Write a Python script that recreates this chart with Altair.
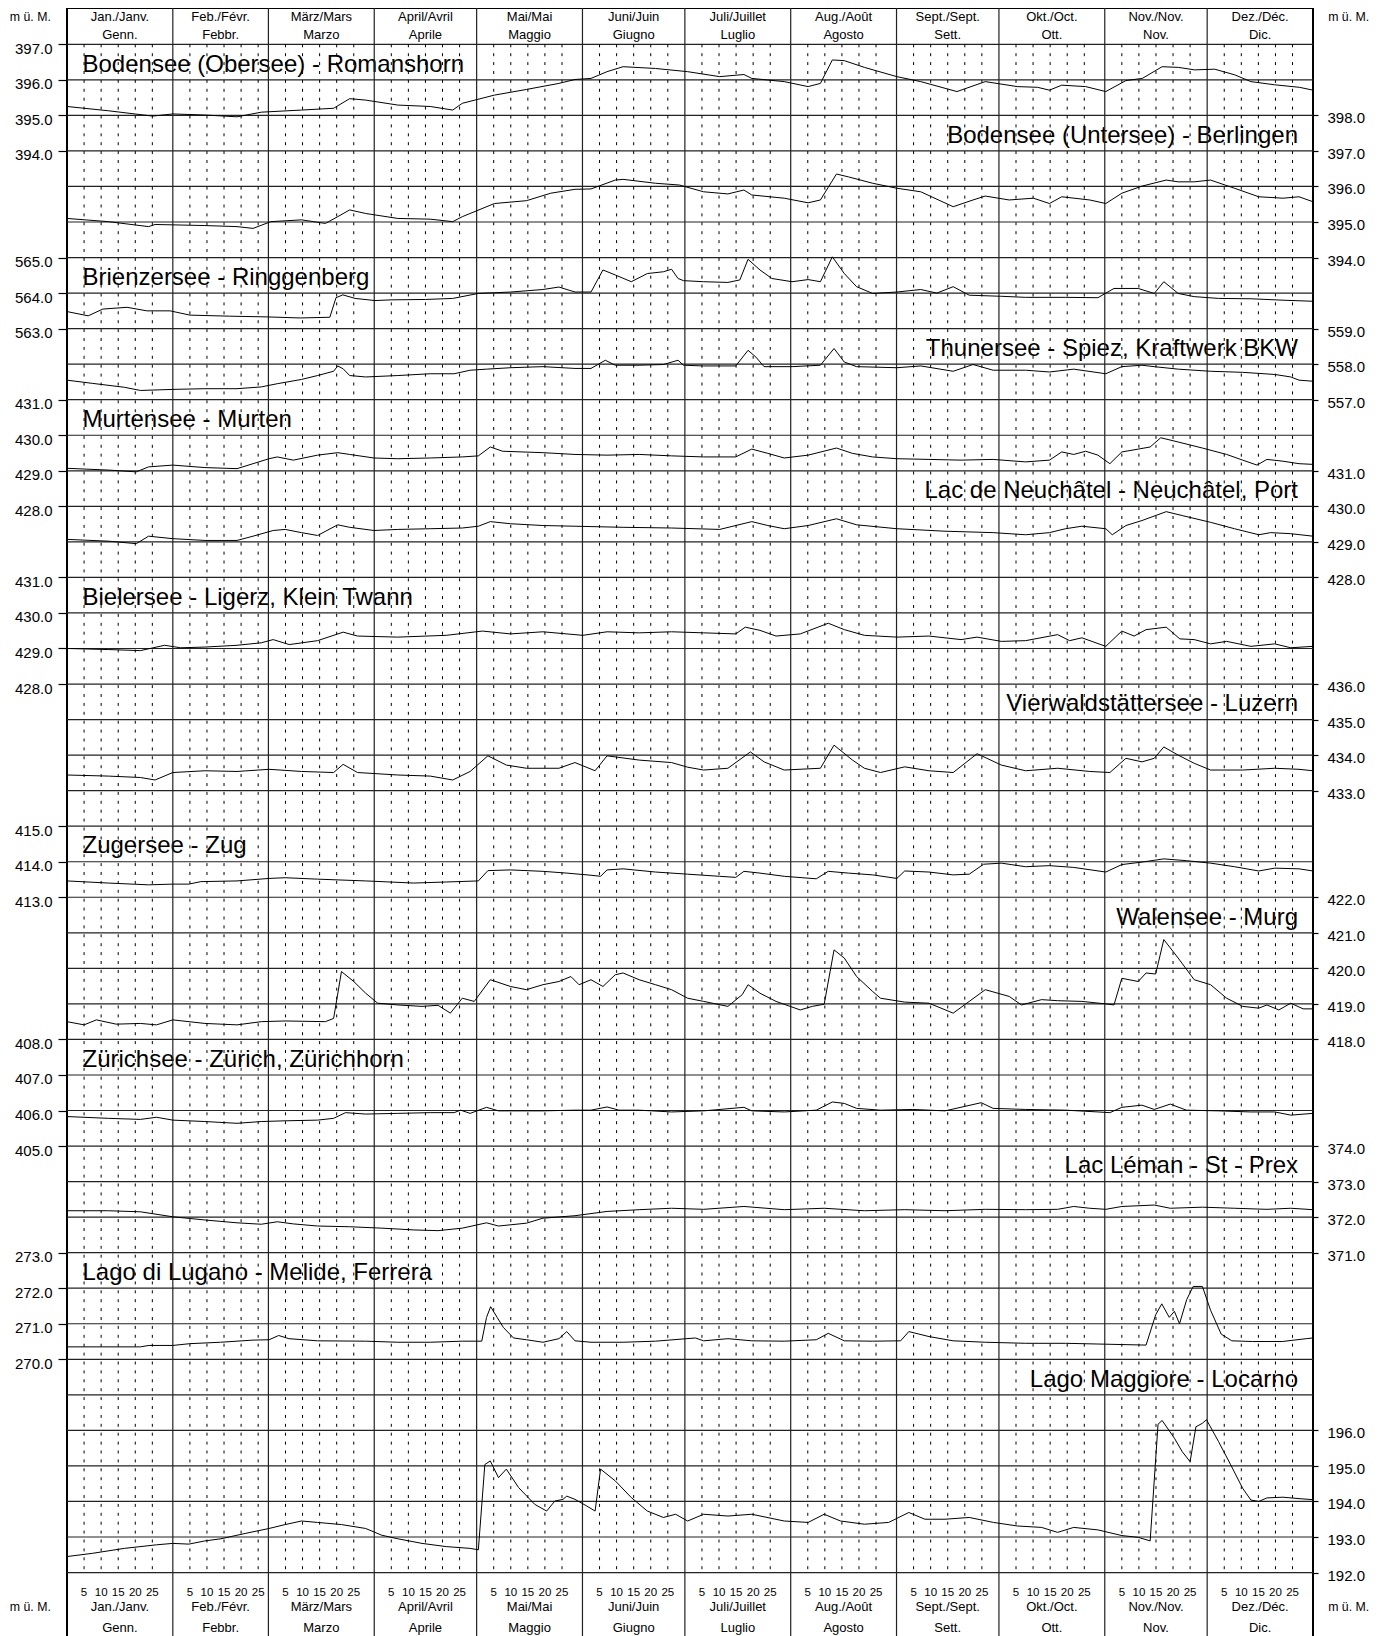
import altair as alt
import pandas as pd

# ---------------- calendar / header text ----------------
MONTH_DAYS = [31, 28, 31, 30, 31, 30, 31, 31, 30, 31, 30, 31]
MONTH_LINE1 = ["Jan./Janv.", "Feb./Févr.", "März/Mars", "April/Avril", "Mai/Mai", "Juni/Juin",
               "Juli/Juillet", "Aug./Août", "Sept./Sept.", "Okt./Oct.", "Nov./Nov.", "Dez./Déc."]
MONTH_LINE2 = ["Genn.", "Febbr.", "Marzo", "Aprile", "Maggio", "Giugno",
               "Luglio", "Agosto", "Sett.", "Ott.", "Nov.", "Dic."]
DAY_TICKS = [5, 10, 15, 20, 25]
UNIT = "m ü. M."

# ---------------- lakes ----------------
LAKES = ["Bodensee (Obersee) - Romanshorn", "Bodensee (Untersee) - Berlingen",
         "Brienzersee - Ringgenberg", "Thunersee - Spiez, Kraftwerk BKW",
         "Murtensee - Murten", "Lac de Neuchâtel - Neuchâtel, Port",
         "Bielersee - Ligerz, Klein Twann", "Vierwaldstättersee - Luzern",
         "Zugersee - Zug", "Walensee - Murg", "Zürichsee - Zürich, Zürichhorn",
         "Lac Léman - St - Prex", "Lago di Lugano - Melide, Ferrera", "Lago Maggiore - Locarno"]
SIDES = ["left", "right", "left", "right", "left", "right", "left",
         "right", "left", "right", "left", "right", "left", "right"]
AXIS_TOP = [397, 398, 565, 559, 431, 431, 431, 436, 415, 422, 408, 374, 273, 196]
AXIS_BOTTOM = [394, 394, 563, 557, 428, 428, 428, 433, 413, 418, 405, 371, 270, 192]
TOP_ROW = [0, 2, 6, 8, 10, 12, 15, 18, 22, 24, 28, 31, 34, 39]
TITLE_ROW = [0.5, 2.5, 6.5, 8.5, 10.5, 12.5, 15.5, 18.5, 22.5, 24.5, 28.5, 31.5, 34.5, 37.5]

# ---------------- series (day of year, water level m ü. M.) ----------------
OBERSEE_DAY = [0, 12.1, 25.1, 31, 40.4, 49.8, 56.9, 68.7, 78.1, 82.8, 87.5, 96.9, 106.4, 113, 115.8,
               125.2, 134.6, 144.1, 148.8, 153.5, 158.2, 162.9, 172.4, 181.8, 191.2, 198.3, 200.6,
               210.1, 217.1, 220.7, 224.2, 227.7, 233.6, 243.1, 250.1, 260.7, 269, 278.4, 284.3,
               287.8, 291.4, 298.4, 304.3, 310.2, 315, 320.8, 325.6, 330.3, 336.2, 342.1, 346.8,
               353.8, 361, 365]
OBERSEE_LEVEL = [395.25, 395.13, 394.98, 395.04, 395.01, 394.96, 395.09, 395.15, 395.20, 395.47,
                 395.43, 395.29, 395.25, 395.15, 395.34, 395.57, 395.73, 395.90, 396.01, 396.04,
                 396.23, 396.37, 396.32, 396.23, 396.09, 396.15, 396.04, 395.95, 395.81, 395.90,
                 396.56, 396.54, 396.35, 396.09, 395.95, 395.67, 395.95, 395.81, 395.79, 395.71,
                 395.85, 395.81, 395.67, 395.98, 396.04, 396.37, 396.35, 396.28, 396.30, 396.14,
                 395.95, 395.86, 395.79, 395.71]

UNTERSEE_DAY = [0, 12.1, 23.9, 25.8, 31, 40.4, 49.8, 54.5, 59.7, 68.7, 75.7, 79.3, 82.8, 87.5, 96.9,
                106.4, 113, 115.8, 125.2, 134.6, 141.7, 148.8, 153.5, 160.6, 162.9, 172.4, 179.4,
                186.5, 193.6, 198.3, 200.6, 210.1, 217.1, 220.7, 225.4, 228.9, 236, 243.1, 250.1,
                259.6, 265.4, 269, 276, 283.1, 287.8, 291.4, 299.6, 304.3, 309, 314.9, 322, 325.5,
                330.2, 335, 342, 349.1, 356.2, 360.9, 365]
UNTERSEE_LEVEL = [395.10, 395.01, 394.87, 394.93, 394.92, 394.90, 394.87, 394.82, 395.01, 395.06,
                  394.96, 395.15, 395.34, 395.24, 395.10, 395.08, 395.01, 395.15, 395.52, 395.60,
                  395.81, 395.92, 395.93, 396.18, 396.20, 396.09, 396.04, 395.85, 395.79, 395.90,
                  395.76, 395.67, 395.54, 395.62, 396.35, 396.27, 396.09, 395.95, 395.85, 395.43,
                  395.62, 395.73, 395.62, 395.67, 395.52, 395.71, 395.62, 395.52, 395.81, 396.01,
                  396.18, 396.13, 396.13, 396.18, 395.95, 395.71, 395.67, 395.71, 395.57]

BRIENZ_DAY = [0, 6.2, 10.5, 17.6, 23.4, 30.2, 36, 47.7, 58.6, 68.3, 77, 78.8, 80.8, 84.4, 90.2, 95.2,
              105, 113, 120.5, 130, 139.4, 144.1, 148.8, 153.5, 157, 160.6, 165.3, 170, 174.7, 177.1,
              179, 180.6, 186.5, 193.6, 197.1, 199.5, 203, 206.5, 212.4, 217.1, 220.7, 224.2, 227.7,
              231.3, 236, 243.1, 250.1, 254.8, 259.6, 264.3, 273.7, 280.8, 292.5, 302, 306.7, 313.8,
              318.5, 321.3, 325.5, 330.2, 337.3, 346.8, 356.2, 365]
BRIENZ_LEVEL = [563.48, 563.36, 563.55, 563.60, 563.50, 563.50, 563.38, 563.35, 563.33, 563.30,
                563.32, 563.87, 563.95, 563.85, 563.79, 563.81, 563.82, 563.85, 563.99, 564.03,
                564.10, 564.17, 564.03, 564.03, 564.65, 564.51, 564.32, 564.55, 564.60, 564.67,
                564.41, 564.35, 564.32, 564.30, 564.37, 564.95, 564.65, 564.41, 564.32, 564.38,
                564.32, 565.02, 564.55, 564.18, 563.99, 564.03, 564.10, 564.00, 564.18, 563.94,
                563.91, 563.88, 563.88, 563.87, 564.13, 564.13, 563.99, 564.32, 563.99, 563.90,
                563.85, 563.84, 563.80, 563.77]

THUN_DAY = [0, 7.4, 16.8, 21.5, 31, 40.4, 49.8, 56.9, 61.6, 68.7, 73.4, 78.1, 79.3, 80.9, 82.8, 87.5,
            96.9, 106.4, 113.4, 118.1, 122.9, 129.9, 139.4, 148.8, 153.5, 157.7, 160.6, 167.6, 174.7,
            179, 180.6, 186.5, 195.9, 199.5, 201.8, 204.2, 212.4, 220.7, 224.7, 227.7, 231.3, 243.1,
            250.1, 259.6, 265.4, 271.3, 280.8, 287.8, 294.9, 304.3, 309, 314.9, 318.5, 325.5, 335,
            344.4, 353.8, 358.5, 360.9, 365]
THUN_LEVEL = [557.55, 557.46, 557.35, 557.26, 557.29, 557.31, 557.31, 557.36, 557.45, 557.57,
              557.68, 557.80, 557.95, 557.87, 557.68, 557.64, 557.68, 557.73, 557.73, 557.83,
              557.86, 557.90, 557.93, 557.88, 557.88, 558.11, 557.97, 557.97, 557.99, 558.11,
              557.97, 557.95, 557.95, 558.39, 558.20, 557.93, 557.93, 557.97, 558.44, 558.06,
              557.93, 557.90, 557.95, 557.80, 557.99, 557.83, 557.83, 557.78, 557.86, 557.73,
              557.93, 557.97, 557.93, 557.86, 557.80, 557.77, 557.71, 557.64, 557.55, 557.52]

MURTEN_DAY = [0, 12.1, 20.3, 23.9, 31, 40.4, 49.8, 54.5, 59.2, 61.6, 66.3, 73.4, 79.3, 82.8, 89.9,
              96.9, 106.4, 115.8, 120.5, 124, 127.6, 139.4, 148.8, 158.2, 167.6, 177.1, 186.5, 195.9,
              200.6, 205.3, 210.1, 217.1, 225.4, 230.1, 236, 243.1, 252.5, 261.9, 271.3, 280.8, 287.8,
              291.4, 294.9, 298.4, 302, 305.5, 309, 313.8, 317.3, 320.4, 325.5, 332.6, 339.7, 344.4,
              348.6, 351.5, 356.2, 360.9, 365]
MURTEN_LEVEL = [429.07, 429.02, 428.97, 429.11, 429.16, 429.09, 429.06, 429.20, 429.34, 429.39,
                429.30, 429.44, 429.51, 429.46, 429.36, 429.34, 429.36, 429.39, 429.42, 429.67,
                429.55, 429.51, 429.46, 429.44, 429.46, 429.42, 429.39, 429.39, 429.61, 429.49,
                429.36, 429.44, 429.64, 429.49, 429.39, 429.34, 429.32, 429.30, 429.32, 429.25,
                429.30, 429.53, 429.46, 429.55, 429.44, 429.20, 429.53, 429.61, 429.67, 429.93,
                429.81, 429.64, 429.46, 429.30, 429.16, 429.32, 429.27, 429.20, 429.18]

NEUCHATEL_DAY = [0, 12.1, 20.3, 23.9, 31, 40.4, 49.8, 54.5, 60.4, 63.9, 68.7, 73.4, 79.3, 82.8, 89.9,
                 96.9, 106.4, 115.8, 120.5, 124, 129.9, 139.4, 148.8, 162.9, 177.1, 191.2, 200.6,
                 205.3, 210.1, 217.1, 225.4, 231.3, 243.1, 257.2, 271.3, 280.8, 287.8, 292.5, 297.3,
                 304.3, 306.2, 310.2, 314.9, 322, 326.7, 335, 342, 349.1, 352.6, 358.5, 365]
NEUCHATEL_LEVEL = [429.07, 429.02, 428.95, 429.16, 429.09, 429.04, 429.04, 429.16, 429.32, 429.35,
                   429.26, 429.18, 429.48, 429.41, 429.32, 429.35, 429.37, 429.39, 429.44, 429.57,
                   429.51, 429.46, 429.44, 429.41, 429.39, 429.35, 429.57, 429.46, 429.37, 429.46,
                   429.65, 429.48, 429.37, 429.30, 429.26, 429.20, 429.26, 429.37, 429.44, 429.37,
                   429.20, 429.46, 429.60, 429.85, 429.74, 429.55, 429.37, 429.20, 429.26, 429.23,
                   429.16]

BIEL_DAY = [0, 12.1, 21.5, 28.6, 33.3, 40.4, 49.8, 56.9, 60.4, 65.1, 73.4, 80.9, 85.1, 96.9, 111.1,
            121.7, 129.9, 139.4, 151.1, 158.2, 167.6, 177.1, 186.5, 195.9, 198.7, 203, 207.7, 214.8,
            223, 227.7, 233.6, 243.1, 252.5, 261.9, 266.6, 273.7, 280.8, 290.2, 293.7, 297.3, 304.3,
            309, 312.6, 316.1, 322, 326, 330.2, 335, 339.7, 346.8, 353.8, 358.5, 365]
BIEL_LEVEL = [429.00, 428.97, 428.94, 429.09, 429.02, 429.04, 429.09, 429.16, 429.25, 429.11,
              429.22, 429.46, 429.35, 429.32, 429.37, 429.49, 429.41, 429.47, 429.37, 429.47,
              429.44, 429.47, 429.44, 429.41, 429.60, 429.51, 429.35, 429.41, 429.71, 429.53,
              429.37, 429.32, 429.35, 429.25, 429.32, 429.20, 429.22, 429.39, 429.22, 429.30,
              429.06, 429.49, 429.35, 429.53, 429.60, 429.27, 429.25, 429.13, 429.20, 429.06,
              429.13, 429.02, 429.06]

VIERWALD_DAY = [0, 12.1, 21.5, 25.8, 31, 40.4, 49.8, 59.2, 68.7, 78.1, 80.9, 85.1, 96.9, 106.4, 113,
                118.1, 123.3, 128.7, 134.6, 144.1, 148.8, 154.7, 158.2, 167.6, 177.1, 181.8, 186.5,
                193.6, 200.2, 204.2, 210.1, 220.7, 224.7, 230.1, 233.6, 238.3, 245.4, 252.5, 259.6,
                266.6, 273.7, 280.8, 290.2, 299.6, 305.5, 310.2, 314.9, 318.5, 321.3, 325.5, 330.2,
                335, 344.4, 353.8, 360.9, 365]
VIERWALD_LEVEL = [433.44, 433.41, 433.37, 433.30, 433.51, 433.56, 433.54, 433.60, 433.54, 433.51,
                  433.74, 433.51, 433.44, 433.41, 433.30, 433.54, 433.98, 433.72, 433.63, 433.63,
                  433.79, 433.56, 433.98, 433.86, 433.79, 433.66, 433.58, 433.63, 434.09, 433.81,
                  433.58, 433.63, 434.28, 433.86, 433.63, 433.51, 433.67, 433.56, 433.51, 434.04,
                  433.72, 433.56, 433.63, 433.54, 433.51, 433.91, 433.81, 433.91, 434.23, 434.00,
                  433.77, 433.58, 433.58, 433.63, 433.60, 433.56]

ZUG_DAY = [0, 12.1, 23.9, 31, 35.7, 39.2, 49.8, 59.2, 63.9, 73.4, 87.5, 101.6, 111.1, 120.5, 123.3,
           129.9, 139.4, 146.4, 153.5, 156.3, 158.2, 162.9, 172.4, 181.8, 191.2, 195.9, 198.3, 203,
           210.1, 219.5, 223, 228.9, 236, 243.1, 245.4, 252.5, 259.6, 264.3, 268.5, 273.7, 280.8,
           287.8, 294.9, 304.3, 309, 314.9, 321.3, 327.9, 335, 342, 349.1, 353.8, 360.9, 365]
ZUG_LEVEL = [413.46, 413.40, 413.35, 413.37, 413.37, 413.44, 413.46, 413.53, 413.55, 413.51,
             413.46, 413.40, 413.43, 413.46, 413.75, 413.77, 413.73, 413.68, 413.62, 413.59,
             413.77, 413.80, 413.71, 413.65, 413.59, 413.56, 413.73, 413.68, 413.59, 413.52,
             413.73, 413.68, 413.63, 413.53, 413.74, 413.71, 413.63, 413.65, 413.93, 413.96,
             413.86, 413.89, 413.84, 413.71, 413.92, 413.99, 414.08, 414.03, 413.96, 413.86,
             413.74, 413.82, 413.80, 413.74]

WALEN_DAY = [0, 5, 8.6, 14.4, 21.5, 26.2, 31, 40.4, 49.8, 56.9, 63.9, 75.7, 78.1, 80.4, 84, 87.5, 91,
             96.9, 104, 108.7, 112.3, 115.8, 119.3, 124, 129.9, 134.6, 139.4, 144.1, 147.6, 150,
             153.5, 157, 160.6, 162.9, 167.6, 172.4, 177.1, 181.8, 186.5, 193.6, 197.8, 199.5, 203,
             207.7, 214.8, 218.3, 221.8, 224.7, 227.7, 231.3, 236, 238.3, 245.4, 252.5, 259.6, 264.3,
             269, 276, 279.6, 285.5, 290.2, 297.3, 304.3, 306.7, 309, 313.8, 316.1, 318.9, 321.3,
             325.5, 330.2, 335, 339.7, 344.4, 349.1, 351.5, 355, 358.5, 362.1, 365]
WALEN_LEVEL = [418.50, 418.41, 418.55, 418.43, 418.45, 418.41, 418.55, 418.45, 418.41, 418.50,
               418.52, 418.50, 418.59, 419.91, 419.63, 419.30, 419.02, 418.97, 418.93, 418.96,
               418.74, 419.16, 419.07, 419.68, 419.49, 419.40, 419.54, 419.63, 419.77, 419.54,
               419.68, 419.49, 419.82, 419.87, 419.68, 419.54, 419.40, 419.16, 419.07, 418.93,
               419.26, 419.54, 419.30, 419.07, 418.83, 418.93, 418.99, 420.52, 420.29, 419.77,
               419.35, 419.16, 419.05, 419.02, 418.74, 419.07, 419.40, 419.21, 418.97, 419.12,
               419.09, 419.07, 419.00, 418.97, 419.72, 419.63, 419.87, 419.84, 420.81, 420.29,
               419.68, 419.54, 419.16, 418.93, 418.88, 418.97, 418.83, 419.02, 418.86, 418.86]

ZURICH_DAY = [0, 12.1, 21.5, 26.2, 31, 40.4, 49.8, 56.9, 63.9, 73.4, 78.1, 81.6, 87.5, 96.9, 106.4,
              113.4, 115.3, 118.1, 122.9, 126.4, 139.4, 148.8, 153.5, 158.2, 161.7, 167.6, 177.1,
              186.5, 198.3, 200.6, 210.1, 219.5, 224.2, 227.7, 231.3, 238.3, 247.8, 257.2, 267.8,
              271.3, 280.8, 292.5, 302, 305.5, 309, 314.9, 318.5, 323.2, 327.9, 337.3, 346.8, 353.8,
              358.5, 365]
ZURICH_LEVEL = [405.83, 405.78, 405.75, 405.81, 405.73, 405.69, 405.64, 405.69, 405.71, 405.73,
                405.78, 405.94, 405.90, 405.92, 405.94, 405.94, 406.01, 405.92, 406.09, 405.99,
                405.99, 406.01, 406.01, 406.10, 406.01, 406.01, 405.96, 405.99, 406.09, 405.99,
                405.96, 406.01, 406.24, 406.20, 406.06, 406.01, 406.03, 405.99, 406.22, 406.06,
                406.03, 406.01, 405.96, 405.94, 406.09, 406.15, 406.03, 406.18, 406.01, 405.99,
                405.96, 405.96, 405.87, 405.92]

LEMAN_DAY = [0, 12.1, 21.5, 31, 40.4, 49.8, 56.9, 61.6, 66.3, 73.4, 82.8, 92.2, 101.6, 108.7, 115.8,
             122.9, 126.4, 134.6, 139.4, 148.8, 158.2, 167.6, 177.1, 186.5, 198.3, 210.1, 221.8,
             233.6, 245.4, 257.2, 269, 280.8, 290.2, 294.9, 299.6, 304.3, 309, 318.5, 323.2, 332.6,
             342, 351.5, 358.5, 365]
LEMAN_LEVEL = [372.18, 372.18, 372.15, 372.01, 371.92, 371.84, 371.80, 371.87, 371.81, 371.75,
               371.73, 371.69, 371.64, 371.62, 371.69, 371.84, 371.75, 371.83, 371.97, 372.04,
               372.16, 372.21, 372.25, 372.22, 372.30, 372.21, 372.25, 372.18, 372.21, 372.18,
               372.22, 372.21, 372.22, 372.30, 372.25, 372.22, 372.30, 372.34, 372.25, 372.28,
               372.25, 372.22, 372.25, 372.21]

LUGANO_DAY = [0, 21.5, 24, 31, 36, 45, 54.5, 59.2, 62, 65, 73.4, 87.5, 96.9, 106.4, 115.8, 121.5,
              122.9, 124.1, 126, 127.8, 130.8, 134.6, 139.4, 144.1, 146.4, 148.8, 153.5, 162.9,
              172.4, 184.1, 186.5, 193.6, 200.6, 210.1, 219.5, 223, 227.7, 236, 244.2, 246.6, 252.5,
              259.6, 269, 280.8, 292.5, 302, 316.1, 318.9, 320.7, 322.9, 324.4, 325.9, 328, 329.9,
              332.6, 335, 338.1, 341.2, 347.3, 356, 363, 365]
LUGANO_LEVEL = [270.35, 270.35, 270.39, 270.39, 270.44, 270.48, 270.54, 270.55, 270.67, 270.58,
                270.52, 270.51, 270.48, 270.48, 270.51, 270.51, 271.18, 271.48, 271.18, 270.90,
                270.60, 270.55, 270.48, 270.58, 270.78, 270.52, 270.48, 270.48, 270.51, 270.60,
                270.52, 270.58, 270.52, 270.51, 270.55, 270.73, 270.52, 270.51, 270.52, 270.78,
                270.64, 270.52, 270.48, 270.45, 270.45, 270.43, 270.40, 271.25, 271.56, 271.18,
                271.35, 271.00, 271.68, 272.05, 272.05, 271.38, 270.71, 270.52, 270.50, 270.50,
                270.58, 270.60]

MAGGIORE_DAY = [0, 7.4, 16.8, 26.2, 31, 35.7, 40.4, 45.1, 52.2, 59.2, 63.9, 68.7, 73.4, 80.4, 87.5,
                92.2, 96.9, 104, 111.1, 118.1, 120.5, 122.4, 124, 126.4, 128.7, 132.3, 137, 140.5,
                142.9, 145.3, 146.4, 148.8, 152.3, 154.7, 156.3, 160.6, 165.3, 170, 174.7, 178.3,
                181.8, 186.5, 193.6, 200.6, 210.1, 217.1, 221.8, 226.6, 233.6, 240.7, 246.6, 251.3,
                257.2, 264.3, 271.4, 278.4, 285.5, 290.2, 294.9, 302, 309, 313.8, 317.3, 319.6, 320.8,
                324.4, 326.7, 329, 330.7, 332.6, 333.8, 337.3, 340.9, 344.4, 346.8, 349.1, 351.5,
                356.2, 360.9, 365]
MAGGIORE_LEVEL = [192.45, 192.54, 192.68, 192.78, 192.82, 192.80, 192.89, 192.95, 193.10, 193.24,
                  193.35, 193.45, 193.41, 193.35, 193.24, 193.05, 192.95, 192.82, 192.73, 192.68,
                  192.64, 195.04, 195.14, 194.67, 194.91, 194.39, 193.92, 193.73, 194.01, 194.06,
                  194.15, 194.06, 193.87, 193.73, 194.91, 194.58, 194.11, 193.73, 193.55, 193.64,
                  193.45, 193.64, 193.59, 193.64, 193.45, 193.41, 193.64, 193.45, 193.36, 193.41,
                  193.69, 193.50, 193.50, 193.55, 193.41, 193.31, 193.27, 193.13, 193.27, 193.20,
                  193.04, 192.99, 192.89, 196.17, 196.28, 195.78, 195.40, 195.12, 196.10, 196.20,
                  196.30, 195.69, 195.03, 194.37, 194.04, 194.00, 194.10, 194.12, 194.08, 194.05]

SERIES_DAYS = [OBERSEE_DAY, UNTERSEE_DAY, BRIENZ_DAY, THUN_DAY, MURTEN_DAY, NEUCHATEL_DAY, BIEL_DAY,
               VIERWALD_DAY, ZUG_DAY, WALEN_DAY, ZURICH_DAY, LEMAN_DAY, LUGANO_DAY, MAGGIORE_DAY]
SERIES_LEVELS = [OBERSEE_LEVEL, UNTERSEE_LEVEL, BRIENZ_LEVEL, THUN_LEVEL, MURTEN_LEVEL,
                 NEUCHATEL_LEVEL, BIEL_LEVEL, VIERWALD_LEVEL, ZUG_LEVEL, WALEN_LEVEL, ZURICH_LEVEL,
                 LEMAN_LEVEL, LUGANO_LEVEL, MAGGIORE_LEVEL]

# ---------------- layout ----------------
W = 1246
H = 1632
N_ROWS = 43
FONT = "Liberation Sans"
xscale = alt.Scale(domain=[0, 365], nice=False, zero=False)
yscale = alt.Scale(domain=[-1.0214, 44.898], reverse=True, nice=False, zero=False)

# ---------------- tables ----------------
line_rows = []
for i, name in enumerate(LAKES):
    for d, v in zip(SERIES_DAYS[i], SERIES_LEVELS[i]):
        line_rows.append({"lake": name, "day": d, "level": v,
                          "top": AXIS_TOP[i], "toprow": TOP_ROW[i]})
lines_df = pd.DataFrame(line_rows)

left_labels = [""] * (N_ROWS + 1)
right_labels = [""] * (N_ROWS + 1)
for i in range(len(LAKES)):
    for v in range(AXIS_BOTTOM[i], AXIS_TOP[i] + 1):
        r = TOP_ROW[i] + AXIS_TOP[i] - v
        if SIDES[i] == "left":
            left_labels[r] = f"{v:.1f}"
        else:
            right_labels[r] = f"{v:.1f}"
left_vals = [r for r, s in enumerate(left_labels) if s]
right_vals = [r for r, s in enumerate(right_labels) if s]


def label_expr(labels):
    return "[" + ",".join("'" + s + "'" for s in labels) + "][datum.value]"


starts = [sum(MONTH_DAYS[:m]) for m in range(12)]
grid_df = pd.DataFrame({"row": list(range(N_ROWS + 1))})
month_df = pd.DataFrame({"day": starts[1:]})
dot_df = pd.DataFrame({"day": [s + d for s in starts for d in DAY_TICKS],
                       "r0": 0, "r1": N_ROWS})
mid_df = pd.DataFrame({"mid": [s + n / 2 for s, n in zip(starts, MONTH_DAYS)],
                       "l1": MONTH_LINE1, "l2": MONTH_LINE2})
daylab_df = pd.DataFrame({"day": [s + d for s in starts for d in DAY_TICKS],
                          "lab": [str(d) for s in starts for d in DAY_TICKS]})
title_df = pd.DataFrame({"title": LAKES, "side": SIDES, "trow": TITLE_ROW})

# ---------------- layers ----------------
left_axis = alt.Axis(orient="left", values=left_vals, labelExpr=label_expr(left_labels),
                     tickSize=9, tickColor="black", tickWidth=1.2, labelPadding=6,
                     labelFontSize=15, labelFont=FONT, labelColor="black", domain=False,
                     grid=False, title=None, labelOverlap=False, labelOffset=4)
right_axis = alt.Axis(orient="right", values=right_vals, labelExpr=label_expr(right_labels),
                      tickSize=5, tickColor="black", tickWidth=1.2, labelPadding=9,
                      labelFontSize=15, labelFont=FONT, labelColor="black", domain=False,
                      grid=False, title=None, labelOverlap=False, labelOffset=2.5)

titles_left = alt.Chart(title_df).transform_filter("datum.side == 'left'").mark_text(
    align="left", baseline="middle", fontSize=24, font=FONT, color="black", dy=2.5
).encode(x=alt.value(15.5), y=alt.Y("trow:Q", scale=yscale, axis=None), text="title:N")
titles_right = alt.Chart(title_df).transform_filter("datum.side == 'right'").mark_text(
    align="right", baseline="middle", fontSize=24, font=FONT, color="black", dy=2.5
).encode(x=alt.value(1231), y=alt.Y("trow:Q", scale=yscale, axis=None), text="title:N")

hgrid_left = alt.Chart(grid_df).mark_rule(color="#222", strokeWidth=1.2).encode(
    y=alt.Y("row:Q", scale=yscale, axis=left_axis), x=alt.value(0), x2=alt.value(W))
hgrid_right = alt.Chart(grid_df).mark_rule(color="#222", strokeWidth=1.2, strokeOpacity=0).encode(
    y=alt.Y("row:Q", scale=yscale, axis=right_axis), x=alt.value(0), x2=alt.value(W))

months = alt.Chart(month_df).mark_rule(color="#222", strokeWidth=1.2).encode(
    x=alt.X("day:Q", scale=xscale, axis=None), y=alt.value(0), y2=alt.value(H))

dots = alt.Chart(dot_df).mark_rule(color="black", strokeWidth=1, strokeDash=[3, 5.9]).encode(
    x=alt.X("day:Q", scale=xscale, axis=None),
    y=alt.Y("r0:Q", scale=yscale, axis=None), y2="r1:Q")

series = alt.Chart(lines_df).transform_calculate(
    row="datum.toprow + datum.top - datum.level"
).mark_line(color="black", strokeWidth=1).encode(
    x=alt.X("day:Q", scale=xscale, axis=None),
    y=alt.Y("row:Q", scale=yscale, axis=None),
    detail="lake:N", order="day:Q")


def header_text(field, ypix, size):
    return alt.Chart(mid_df).mark_text(baseline="middle", align="center", fontSize=size,
                                       font=FONT, color="black").encode(
        x=alt.X("mid:Q", scale=xscale, axis=None), y=alt.value(ypix), text=f"{field}:N")


top1 = header_text("l1", 8.7, 13)
top2 = header_text("l2", 27, 13)
bot1 = header_text("l1", 1598.7, 13)
bot2 = header_text("l2", 1620.3, 13)
daylabs = alt.Chart(daylab_df).mark_text(baseline="middle", align="center", fontSize=11.5,
                                          font=FONT, color="black").encode(
    x=alt.X("day:Q", scale=xscale, axis=None), y=alt.value(1584.7), text="lab:N")

unit_df = pd.DataFrame({"u": [UNIT]})


def unit_text(xpix, ypix):
    return alt.Chart(unit_df).mark_text(baseline="middle", align="center", fontSize=12.3,
                                        font=FONT, color="black").encode(
        x=alt.value(xpix), y=alt.value(ypix), text="u:N")


units = [unit_text(-36.7, 8.7), unit_text(1281.7, 8.7),
         unit_text(-36.7, 1598.7), unit_text(1281.7, 1598.7)]

chart = alt.layer(
    titles_left, titles_right, hgrid_left, hgrid_right, months, dots, series,
    top1, top2, bot1, bot2, daylabs, *units
).resolve_axis(y="independent").properties(
    width=W, height=H,
    autosize=alt.AutoSizeParams(type="none"),
    padding={"left": 59, "top": 0, "right": 63, "bottom": 0},
).configure_view(stroke="black", strokeWidth=2)

chart.save("out.html", embed_options={"renderer": "svg", "actions": False})
